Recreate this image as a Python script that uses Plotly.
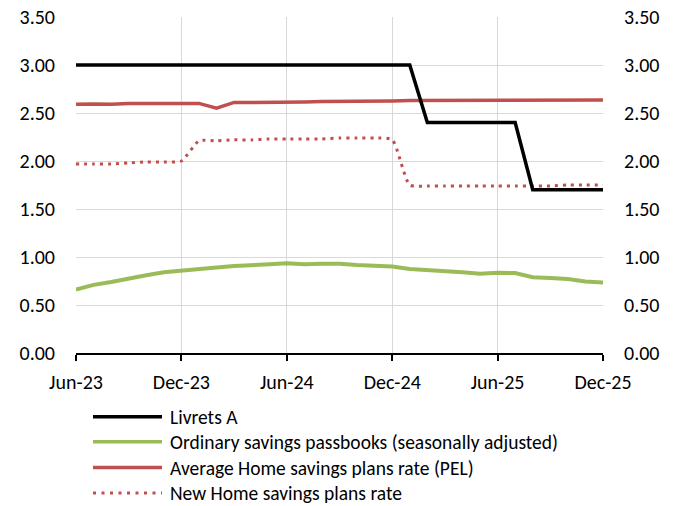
import plotly.graph_objects as go

months = ["Jun-23", "Jul-23", "Aug-23", "Sep-23", "Oct-23", "Nov-23", "Dec-23",
          "Jan-24", "Feb-24", "Mar-24", "Apr-24", "May-24", "Jun-24", "Jul-24",
          "Aug-24", "Sep-24", "Oct-24", "Nov-24", "Dec-24",
          "Jan-25", "Feb-25", "Mar-25", "Apr-25", "May-25", "Jun-25", "Jul-25",
          "Aug-25", "Sep-25", "Oct-25", "Nov-25", "Dec-25"]

livret_a = [3.0, 3.0, 3.0, 3.0, 3.0, 3.0, 3.0,
            3.0, 3.0, 3.0, 3.0, 3.0, 3.0, 3.0, 3.0, 3.0, 3.0, 3.0, 3.0,
            3.0, 2.4, 2.4, 2.4, 2.4, 2.4, 2.4, 1.7, 1.7, 1.7, 1.7, 1.7]

ordinary = [0.66, 0.71, 0.74, 0.78, 0.81, 0.84, 0.86,
            0.88, 0.89, 0.905, 0.92, 0.925, 0.935, 0.925, 0.93, 0.93, 0.917, 0.91, 0.90,
            0.875, 0.86, 0.85, 0.84, 0.826, 0.836, 0.833, 0.79, 0.78, 0.77, 0.745, 0.735]

pel_avg = [2.59, 2.595, 2.59, 2.60, 2.60, 2.60, 2.60,
           2.60, 2.55, 2.61, 2.61, 2.61, 2.61, 2.615, 2.62, 2.62, 2.625, 2.625, 2.625,
           2.63, 2.63, 2.63, 2.63, 2.635, 2.63, 2.635, 2.635, 2.63, 2.63, 2.635, 2.635]

pel_new = [1.97, 1.97, 1.97, 1.98, 1.99, 1.99, 2.00,
           2.21, 2.21, 2.22, 2.22, 2.23, 2.23, 2.23, 2.23, 2.24, 2.24, 2.24, 2.22,
           1.75, 1.74, 1.74, 1.74, 1.74, 1.74, 1.74, 1.74, 1.74, 1.75, 1.75, 1.75]

tick_months = ["Jun-23", "Dec-23", "Jun-24", "Dec-24", "Jun-25", "Dec-25"]
y_ticks = [0, 0.5, 1.0, 1.5, 2.0, 2.5, 3.0, 3.5]

legend_names = ["Livrets A",
                "Ordinary savings passbooks (seasonally adjusted)",
                "Average Home savings plans rate (PEL)",
                "New Home savings plans rate"]

BLACK = "#000000"
GREEN = "#9BBB59"
RED = "#C0504D"
FONT = "Carlito, Calibri, Lato, sans-serif"

W, H = 677, 506
L, T, R, B = 76, 17, 74, 153
PW = W - L - R
PH = H - T - B

fig = go.Figure()
fig.add_trace(go.Scatter(x=months, y=ordinary, mode="lines",
                         line=dict(color=GREEN, width=4), name=legend_names[1]))
fig.add_trace(go.Scatter(x=months, y=pel_avg, mode="lines",
                         line=dict(color=RED, width=3.5), name=legend_names[2]))
fig.add_trace(go.Scatter(x=months, y=pel_new, mode="lines",
                         line=dict(color=RED, width=3, dash="3px,5px", shape="spline", smoothing=0.6),
                         name=legend_names[3]))
fig.add_trace(go.Scatter(x=months, y=livret_a, mode="lines",
                         line=dict(color=BLACK, width=3.5), name=legend_names[0]))
# invisible trace to draw the mirrored right axis
fig.add_trace(go.Scatter(x=months, y=livret_a, mode="lines", yaxis="y2",
                         line=dict(width=0), opacity=0, hoverinfo="skip", showlegend=False))

yax = dict(range=[0, 3.5], tickvals=y_ticks, tickformat=".2f",
           showgrid=True, gridcolor="#D9D9D9", gridwidth=1, zeroline=False,
           showline=False, ticks="", ticklabelstandoff=20, automargin=False,
           ticklabeloverflow="allow",
           tickfont=dict(family=FONT, size=20, color="#000"))

fig.update_layout(
    width=W, height=H,
    margin=dict(l=L, r=R, t=T, b=B),
    paper_bgcolor="white", plot_bgcolor="white",
    showlegend=False,
    font=dict(family=FONT, color="#000"),
    xaxis=dict(type="category", range=[0, len(months) - 1],
               tickvals=tick_months, ticktext=tick_months,
               showgrid=True, gridcolor="#D9D9D9", gridwidth=1,
               showline=True, linecolor="#000", linewidth=1.5,
               ticks="outside", ticklen=6, tickcolor="#000", tickwidth=1.5,
               ticklabelstandoff=4, automargin=False, ticklabeloverflow="allow",
               tickfont=dict(family=FONT, size=20, color="#000")),
    yaxis=yax,
    yaxis2=dict(yax, overlaying="y", side="right", showgrid=False),
)

# Manual legend below the chart (screen y positions of the rows)
rows_y = [416.7, 441.7, 467.5, 493.0]
styles = [dict(color=BLACK, width=3.5),
          dict(color=GREEN, width=3.5),
          dict(color=RED, width=3.5),
          dict(color=RED, width=3, dash="3px,5.5px")]
for name, ry, st in zip(legend_names, rows_y, styles):
    yp = (T + PH - ry) / PH
    fig.add_shape(type="line", xref="paper", yref="paper",
                  x0=(93 - L) / PW, x1=(162 - L) / PW,
                  y0=yp, y1=yp, line=st)
    fig.add_annotation(xref="paper", yref="paper", x=(168 - L) / PW, y=yp,
                       text=name, showarrow=False, xanchor="left", yanchor="middle",
                       font=dict(family=FONT, size=19.5, color="#000"))

# remove the default 8px body margin so the figure fills the window exactly
fig.write_html("out.html",
               config={"displayModeBar": False},
               post_script="document.body.style.margin='0';document.body.style.overflow='hidden';")
